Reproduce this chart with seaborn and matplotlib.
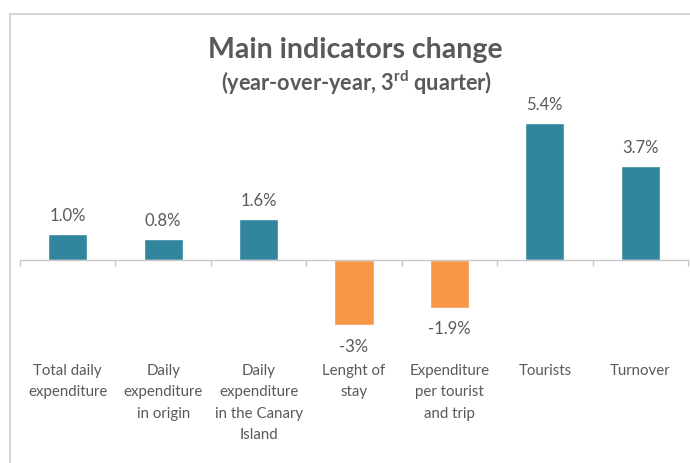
import matplotlib
matplotlib.use("Agg")
import matplotlib.pyplot as plt
import seaborn as sns
import pandas as pd
from matplotlib.patches import Rectangle
from matplotlib import transforms

categories = ["Total daily\nexpenditure", "Daily\nexpenditure\nin origin",
              "Daily\nexpenditure\nin the Canary\nIsland", "Lenght of\nstay",
              "Expenditure\nper tourist\nand trip", "Tourists", "Turnover"]
values = [1.0, 0.8, 1.6, -2.6, -1.9, 5.4, 3.7]
value_labels = ["1.0%", "0.8%", "1.6%", "-3%", "-1.9%", "5.4%", "3.7%"]

TEAL = "#31859C"
ORANGE = "#F79646"
GRAY = "#595959"

sns.set_theme(style="white")
plt.rcParams["font.family"] = ["Lato", "DejaVu Sans"]
plt.rcParams["mathtext.fontset"] = "custom"
plt.rcParams["mathtext.bf"] = "Lato:bold"
plt.rcParams["mathtext.rm"] = "Lato:bold"

df = pd.DataFrame({"cat": categories, "val": values,
                   "sign": ["pos" if v >= 0 else "neg" for v in values]})

W, H = 690, 464
fig = plt.figure(figsize=(W / 100, H / 100), dpi=100)
ax = fig.add_axes([20 / W, (H - 340) / H, 668 / W, 250 / H])

sns.barplot(data=df, x="cat", y="val", hue="sign",
            palette={"pos": TEAL, "neg": ORANGE}, dodge=False,
            width=0.41, legend=False, ax=ax, saturation=1)

ax.set_xlim(-0.5, len(categories) - 0.5)
ax.set_ylim(-(340 - 260.5) / 25.3, (260.5 - 90) / 25.3)
for s in ["top", "right", "left"]:
    ax.spines[s].set_visible(False)
ax.spines["bottom"].set_position(("data", 0))
ax.spines["bottom"].set_color("#C8C8C8")
ax.spines["bottom"].set_linewidth(1.0)
ax.set_yticks([])
ax.set_xticks([i - 0.5 for i in range(len(categories) + 1)])
ax.set_xticklabels([])
ax.tick_params(axis="x", direction="out", length=4, width=1.0, color="#C8C8C8", bottom=True)
ax.set_xlabel("")
ax.set_ylabel("")
ax.patch.set_visible(False)

# value labels
for i, (v, lab) in enumerate(zip(values, value_labels)):
    if v >= 0:
        ax.annotate(lab, (i, v), xytext=(0, 8), textcoords="offset points",
                    ha="center", va="bottom", fontsize=12, color=GRAY)
    else:
        ax.annotate(lab, (i, v), xytext=(0, -9), textcoords="offset points",
                    ha="center", va="top", fontsize=12, color=GRAY)

# category labels
trans = transforms.blended_transform_factory(ax.transData, fig.transFigure)
for i, c in enumerate(categories):
    ax.text(i, (H - 364) / H, c, transform=trans, ha="center", va="top",
            fontsize=10.8, color=GRAY, linespacing=1.68)

# titles
fig.text(355 / W, (H - 50) / H, "Main indicators change", ha="center", va="center",
         fontsize=20.5, fontweight="bold", color=GRAY)
fig.text(357 / W, (H - 83) / H, r"(year-over-year, 3$^{\mathbf{rd}}$ quarter)",
         ha="center", va="center", fontsize=15.6, fontweight="bold", color=GRAY)

# chart frame
fig.add_artist(Rectangle((10 / W, -0.2), 2, (H - 15) / H + 0.2, transform=fig.transFigure,
                         fill=False, edgecolor="#D4D4D4", linewidth=1.5))

fig.savefig("out.png", dpi=100)
